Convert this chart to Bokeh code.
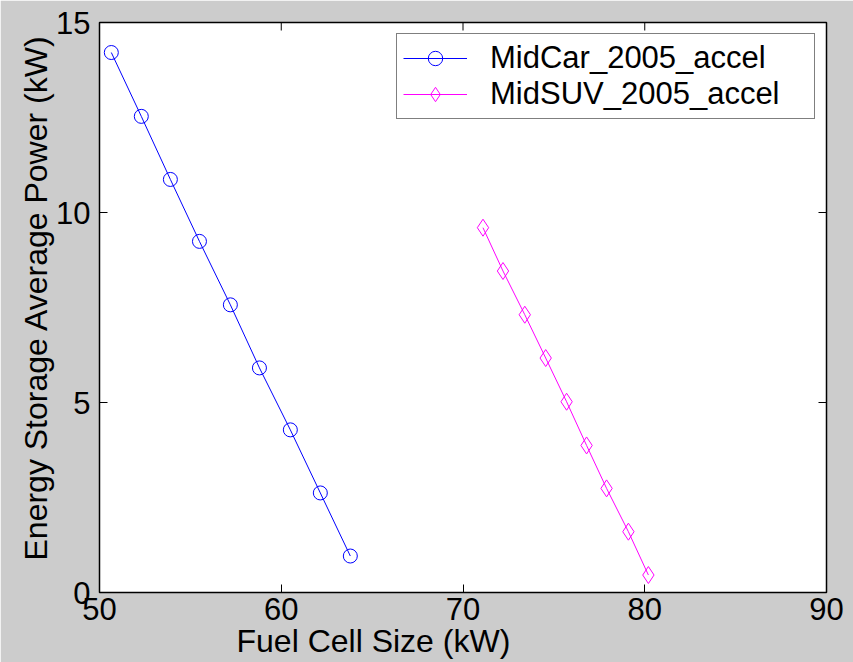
import math
from bokeh.plotting import figure
from bokeh.models import Range1d, FixedTicker, Legend, LegendItem, Title
from bokeh.embed import file_html
from bokeh.resources import INLINE

# Data
car_fc = [50.65, 52.3, 53.9, 55.5, 57.2, 58.8, 60.5, 62.15, 63.8]
car_es = [14.21, 12.53, 10.87, 9.24, 7.57, 5.91, 4.28, 2.62, 0.96]
suv_fc = [71.1, 72.2, 73.4, 74.55, 75.7, 76.8, 77.9, 79.1, 80.2]
suv_es = [9.60, 8.46, 7.31, 6.17, 5.02, 3.87, 2.74, 1.60, 0.46]
x_ticks = [50, 60, 70, 80, 90]
y_ticks = [0, 5, 10, 15]
series_names = ["MidCar_2005_accel", "MidSUV_2005_accel"]
x_title = "Fuel Cell Size (kW)"
y_title = "Energy Storage Average Power (kW)"

FONT = "Liberation Sans"
FS = "31px"
LFS = "32px"
BG = "#cccccc"
X0, X1, Y0, Y1 = 50, 90, 0, 15

p = figure(width=853, height=662, output_backend="svg", toolbar_location=None,
           x_range=Range1d(X0, X1), y_range=Range1d(Y0, Y1),
           min_border_left=99, min_border_right=27, min_border_top=22, min_border_bottom=70)
p.border_fill_color = BG
p.background_fill_color = "white"
p.outline_line_color = "black"
p.outline_line_width = 1.5
p.grid.visible = False

for ax in (p.xaxis[0], p.yaxis[0]):
    ax.major_label_text_font = FONT
    ax.major_label_text_font_size = FS
    ax.major_label_text_color = "black"
    ax.major_tick_in = 8
    ax.major_tick_out = 0
    ax.minor_tick_line_color = None
    ax.axis_line_color = "black"
    ax.major_tick_line_color = "black"

p.xaxis.ticker = FixedTicker(ticks=x_ticks)
p.yaxis.ticker = FixedTicker(ticks=y_ticks)
p.xaxis.major_label_standoff = 5
p.yaxis.major_label_standoff = 9

# axis titles, placed off-centre as in the reference
p.add_layout(Title(text=x_title, align="left", offset=137, standoff=-3,
                   text_font=FONT, text_font_size=LFS, text_font_style="normal",
                   text_color="black"), "below")
p.add_layout(Title(text=y_title, align="left", offset=32, standoff=0,
                   text_font=FONT, text_font_size=LFS, text_font_style="normal",
                   text_color="black"), "left")

# mirrored inward ticks on top and right edges (clipped to the frame)
p.scatter(x_ticks, [Y1] * len(x_ticks), marker="dash", size=16, angle=math.pi / 2,
          line_color="black", line_width=1)
p.scatter([X1] * len(y_ticks), y_ticks, marker="dash", size=16,
          line_color="black", line_width=1)

l1 = p.line(car_fc, car_es, line_color="#0000ff", line_width=1)
m1 = p.scatter(car_fc, car_es, marker="circle", size=14, fill_color=None,
               line_color="#0000ff", line_width=1)
l2 = p.line(suv_fc, suv_es, line_color="#ff00ff", line_width=1)
m2 = p.scatter(suv_fc, suv_es, marker="diamond", size=17, fill_color=None,
               line_color="#ff00ff", line_width=1)

legend = Legend(items=[LegendItem(label=series_names[0], renderers=[l1, m1]),
                       LegendItem(label=series_names[1], renderers=[l2, m2])],
                location="top_right")
legend.label_text_font = FONT
legend.label_text_font_size = FS
legend.label_text_color = "black"
legend.border_line_color = "black"
legend.border_line_width = 1.5
legend.background_fill_color = "white"
legend.background_fill_alpha = 1
legend.padding = 6
legend.spacing = 0
legend.margin = 11
legend.glyph_width = 64
legend.glyph_height = 36
legend.label_height = 36
legend.label_standoff = 23
legend.label_width = 318
p.add_layout(legend)

html = file_html(p, INLINE)
html = html.replace("<body>", '<body style="background:%s">' % BG, 1)
open("out.html", "w").write(html)
